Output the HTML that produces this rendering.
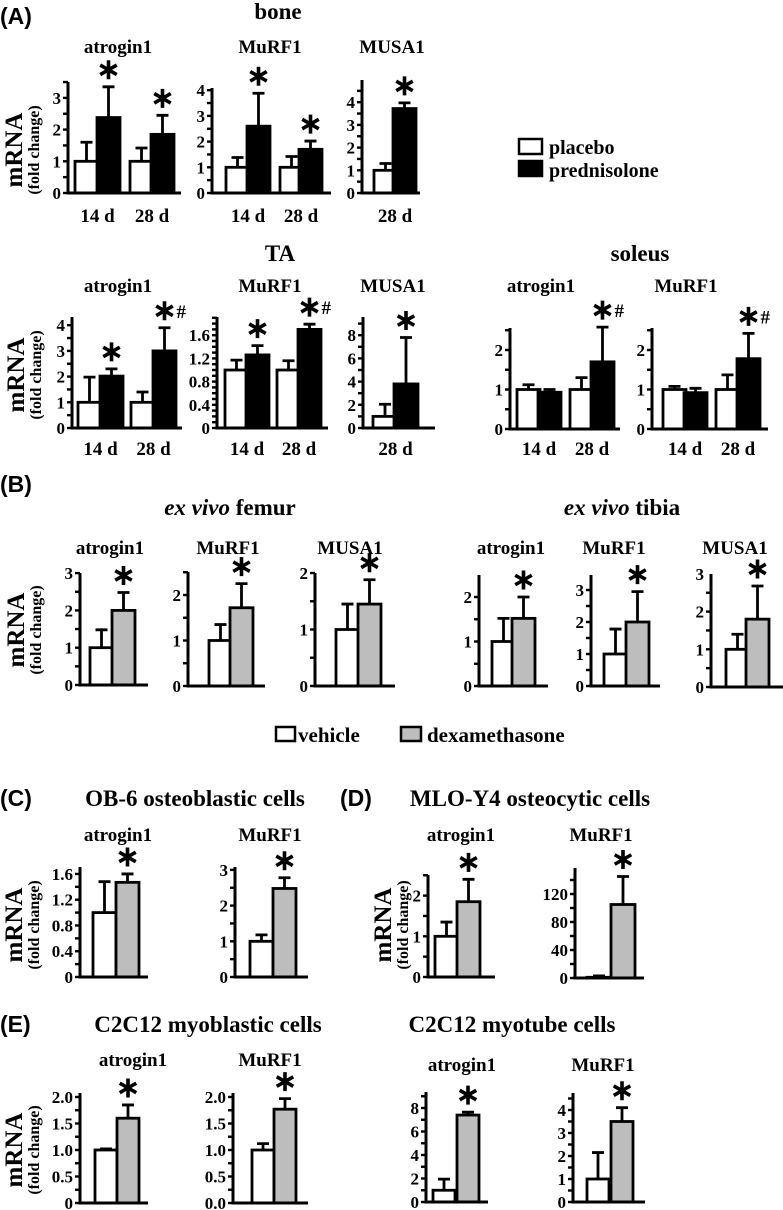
<!DOCTYPE html>
<html><head><meta charset="utf-8"><style>
html,body{margin:0;padding:0;background:#fff;}
svg{display:block;font-family:"Liberation Serif",serif;font-weight:bold;}
svg text{font-weight:bold;}
.sans{font-family:"Liberation Sans",sans-serif;}
</style></head><body>
<svg id="fig" width="783" height="1210" viewBox="0 0 783 1210" xmlns="http://www.w3.org/2000/svg">
<g id="static">
<text class="sans" x="0" y="24" font-size="23">(A)</text>
<text x="278" y="19" font-size="23" text-anchor="middle">bone</text>
<text x="280" y="261" font-size="23" text-anchor="middle">TA</text>
<text x="640" y="261" font-size="23" text-anchor="middle">soleus</text>
<text class="sans" x="0" y="492" font-size="23">(B)</text>
<text x="230" y="515" font-size="23" text-anchor="middle"><tspan font-style="italic">ex vivo</tspan> femur</text>
<text x="622" y="515" font-size="23" text-anchor="middle"><tspan font-style="italic">ex vivo</tspan> tibia</text>
<text class="sans" x="0" y="806" font-size="23">(C)</text>
<text x="195" y="806" font-size="23" text-anchor="middle">OB-6 osteoblastic cells</text>
<text class="sans" x="340" y="806" font-size="23">(D)</text>
<text x="530" y="806" font-size="23" text-anchor="middle">MLO-Y4 osteocytic cells</text>
<text class="sans" x="0" y="1032" font-size="23">(E)</text>
<text x="208" y="1032" font-size="23" text-anchor="middle">C2C12 myoblastic cells</text>
<text x="512" y="1032" font-size="23" text-anchor="middle">C2C12 myotube cells</text>
<rect x="519" y="139" width="23" height="15" fill="#fff" stroke="#000" stroke-width="2.5"/>
<text x="549" y="154" font-size="20">placebo</text>
<rect x="519" y="161" width="23" height="15" fill="#000" stroke="#000" stroke-width="2.5"/>
<text x="549" y="177" font-size="20">prednisolone</text>
<rect x="276" y="727" width="19" height="14" fill="#fff" stroke="#000" stroke-width="2.5"/>
<text x="298" y="742" font-size="21">vehicle</text>
<rect x="401" y="727" width="20" height="14" fill="#bdbdbd" stroke="#000" stroke-width="2.5"/>
<text x="427" y="742" font-size="21">dexamethasone</text>
</g>
</svg>
<script>
// ---- data (means and error-bar tops) ----
const boneAtroMean=[1,2.38,1,1.85]; const boneAtroErr=[1.6,3.35,1.42,2.45];
const boneMurfMean=[1,2.6,1,1.7]; const boneMurfErr=[1.38,3.88,1.42,2.02];
const boneMusaMean=[1,3.72]; const boneMusaErr=[1.3,3.97];
const taAtroMean=[1,2.02,1,3.0]; const taAtroErr=[1.98,2.3,1.4,3.9];
const taMurfMean=[1,1.26,1,1.7]; const taMurfErr=[1.17,1.42,1.16,1.79];
const taMusaMean=[1,3.8]; const taMusaErr=[2.05,7.8];
const solAtroMean=[1,0.93,1,1.7]; const solAtroErr=[1.12,1.0,1.3,2.58];
const solMurfMean=[1,0.92,1,1.78]; const solMurfErr=[1.08,1.03,1.37,2.42];
const femAtroMean=[1,2.0]; const femAtroErr=[1.48,2.48];
const femMurfMean=[1,1.72]; const femMurfErr=[1.35,2.25];
const femMusaMean=[1,1.45]; const femMusaErr=[1.45,1.88];
const tibAtroMean=[1,1.52]; const tibAtroErr=[1.52,2.0];
const tibMurfMean=[1,2.0]; const tibMurfErr=[1.78,2.95];
const tibMusaMean=[1,1.8]; const tibMusaErr=[1.4,2.68];
const obAtroMean=[1,1.47]; const obAtroErr=[1.48,1.6];
const obMurfMean=[1,2.48]; const obMurfErr=[1.18,2.78];
const mloAtroMean=[1,1.85]; const mloAtroErr=[1.35,2.4];
const mloMurfMean=[1,105]; const mloMurfErr=[3,145];
const mbAtroMean=[1,1.6]; const mbAtroErr=[1.02,1.85];
const mbMurfMean=[1,1.77]; const mbMurfErr=[1.12,1.97];
const mtAtroMean=[1,7.4]; const mtAtroErr=[1.95,7.65];
const mtMurfMean=[1,3.5]; const mtMurfErr=[2.15,4.1];
// tick label arrays
const ticks0to3=["0","1","2","3"]; const ticks0to4=["0","1","2","3","4"];
const ticks0to2=["0","1","2"]; const ticksTaMurf=["0","0.4","0.8","1.2","1.6"];
const ticksEven8=["0","2","4","6","8"]; const ticksMlo=["0","40","80","120"];
const ticksMbA=["0","0.5","1.0","1.5","2.0"]; const ticksMbM=["0.0","0.5","1.0","1.5","2.0"];
const dayLabels=["14 d","28 d"]; const day28=["28 d"];

const NS="http://www.w3.org/2000/svg";
const svg=document.getElementById('fig');
function mk(tag,attrs,parent){const e=document.createElementNS(NS,tag);for(const k in attrs)e.setAttribute(k,attrs[k]);(parent||svg).appendChild(e);return e;}

function chart(id,title,titleX,titleY,ax,by,ppu,topPx,endX,bx,bw,mean,err,fill,tickLabels,tickStep,minor,stars,hashes,xl,xlY){
  const g=mk('g',{});
  
  
  const y=v=>by-v*ppu;
  const t=mk('text',{x:titleX,y:titleY+1,'font-size':19,'text-anchor':'middle'},g);
  
  
  t.textContent=title;
  mean.forEach((m,i)=>{
    const x0=bx[i];
    const r=mk('rect',{x:x0,y:y(m),width:bw,height:by-y(m),fill:fill[i],stroke:'#000','stroke-width':2.8},g);
    
    
    const cx=x0+bw/2;
    const e=mk('path',{d:`M${cx},${y(m)}V${y(err[i])}M${cx-6},${y(err[i])}H${cx+6}`,stroke:'#000','stroke-width':2.8,fill:'none'},g);
    
    
    if(stars.includes(i)){
      const sy=y(err[i])-17, r2=9.5;
      const s=mk('path',{d:`M${cx},${sy-r2}V${sy+r2}M${cx-r2*0.87},${sy-r2/2}L${cx+r2*0.87},${sy+r2/2}M${cx-r2*0.87},${sy+r2/2}L${cx+r2*0.87},${sy-r2/2}`,stroke:'#000','stroke-width':3.6,fill:'none'},g);
      
      
      if(hashes.includes(i)){
        const h=mk('text',{x:cx+12,y:sy+7,'font-size':19},g);
        
        
        h.textContent='#';
      }
    }
  });
  const a=mk('path',{d:`M${ax},${topPx}V${by}H${endX}`,stroke:'#000','stroke-width':3,fill:'none'},g);
  
  
  const maxV=(by-topPx)/ppu;
  for(let v=0;v<=maxV+1e-6;v+=minor){
    const yy=y(v);
    const tk=mk('line',{x1:ax-5,x2:ax,y1:yy,y2:yy,stroke:'#000','stroke-width':2.4},g);
    
    
  }
  tickLabels.forEach((lab,i)=>{
    const tl=mk('text',{x:ax-7,y:y(i*tickStep)+6,'font-size':17,'text-anchor':'end'},g);
    
    
    tl.textContent=lab;
  });
  if(xl){
    xl.forEach((lab,i)=>{
      const cx=(bx[i*2]+bx[i*2+1]+bw)/2;
      const xt=mk('text',{x:cx,y:xlY+1,'font-size':19,'text-anchor':'middle'},g);
      
      
      xt.textContent=lab;
    });
  }
}
function ylab(id,x,cy){
  const g=mk('g',{});
  
  
  const a=mk('text',{x:0,y:0,'font-size':25,'text-anchor':'middle',transform:`translate(${x+2},${cy}) rotate(-90)`},g);
  a.textContent='mRNA';
  const b=mk('text',{x:0,y:0,'font-size':16,'text-anchor':'middle',transform:`translate(${x+19},${cy}) rotate(-90)`},g);
  b.textContent='(fold change)';
}
const W='#fff',K='#000',G='#bdbdbd';
const PB=[W,K,W,K], VD=[W,G];
chart('bone-atrogin1','atrogin1',118,52,68,193,31.7,82,181,[75,97,130,151],23,boneAtroMean,boneAtroErr,PB,ticks0to3,1,0.5,[1,3],[],dayLabels,221);
chart('bone-murf1','MuRF1',270,52,212,193,25.7,88,331,[226,247,280,299],23,boneMurfMean,boneMurfErr,PB,ticks0to4,1,0.5,[1,3],[],dayLabels,221);
chart('bone-musa1','MUSA1',392,52,362,193,22.7,80,420,[374,393],23,boneMusaMean,boneMusaErr,PB,ticks0to4,1,0.5,[1],[],day28,221);
ylab('bone-y-axis-title',20,150);
chart('ta-atrogin1','atrogin1',118,291,72,428,25.7,317,182,[78,100,131,153],23,taAtroMean,taAtroErr,PB,ticks0to4,1,0.5,[1,3],[3],dayLabels,454);
chart('ta-murf1','MuRF1',270,291,217,428,58,317,328,[225,246,277,298],23,taMurfMean,taMurfErr,PB,ticksTaMurf,0.4,0.1,[1,3],[3],dayLabels,454);
chart('ta-musa1','MUSA1',393,291,363,428,11.6,317,435,[373,394],24,taMusaMean,taMusaErr,PB,ticksEven8,2,1,[1],[],day28,454);
chart('soleus-atrogin1','atrogin1',541,291,510,429,39.5,328,620,[517,538,570,591],23,solAtroMean,solAtroErr,PB,ticks0to2,1,0.5,[3],[3],dayLabels,454);
chart('soleus-murf1','MuRF1',686,291,652,429,39.5,328,768,[663,684,716,737],23,solMurfMean,solMurfErr,PB,ticks0to2,1,0.5,[3],[3],dayLabels,454);
ylab('ta-y-axis-title',22,375);
chart('femur-atrogin1','atrogin1',110,553,80,685,37.3,573,148,[90,112],23,femAtroMean,femAtroErr,VD,ticks0to3,1,0.5,[1],[],null,0);
chart('femur-murf1','MuRF1',228,553,188,686,45.5,572,265,[209,230],23,femMurfMean,femMurfErr,VD,ticks0to2,1,0.5,[1],[],null,0);
chart('femur-musa1','MUSA1',350,553,315,686,56.5,573,395,[336,358],23,femMusaMean,femMusaErr,VD,ticks0to2,1,0.5,[1],[],null,0);
chart('tibia-atrogin1','atrogin1',511,553,479,686,44.5,575,548,[492,512],23,tibAtroMean,tibAtroErr,VD,ticks0to2,1,0.5,[1],[],null,0);
chart('tibia-murf1','MuRF1',614,553,591,686,32,575,660,[604,626],23,tibMurfMean,tibMurfErr,VD,ticks0to3,1,0.5,[1],[],null,0);
chart('tibia-musa1','MUSA1',735,553,711,687,37.7,574,783,[726,746],23,tibMusaMean,tibMusaErr,VD,ticks0to3,1,0.5,[1],[],null,0);
ylab('b-y-axis-title',22,630);
chart('ob6-atrogin1','atrogin1',118,840,80,977,64.4,867,148,[93,116],23,obAtroMean,obAtroErr,VD,ticksTaMurf,0.4,0.2,[1],[],null,0);
chart('ob6-murf1','MuRF1',270,840,235,977,35.7,867,308,[250,273],23,obMurfMean,obMurfErr,VD,ticks0to3,1,0.5,[1],[],null,0);
ylab('c-y-axis-title',20,925);
chart('mlo-atrogin1','atrogin1',461,840,428,977,40.7,875,495,[435,457],23,mloAtroMean,mloAtroErr,VD,ticks0to2,1,0.5,[1],[],null,0);
chart('mlo-murf1','MuRF1',601,840,575,978,0.7,868,644,[587,611],24,mloMurfMean,mloMurfErr,VD,ticksMlo,40,20,[1],[],null,0);
ylab('d-y-axis-title',389,925);
chart('myoblast-atrogin1','atrogin1',133,1065,80,1203,53,1093,148,[95,117],22,mbAtroMean,mbAtroErr,VD,ticksMbA,0.5,0.25,[1],[],null,0);
chart('myoblast-murf1','MuRF1',270,1065,233,1203,53,1093,308,[252,274],22,mbMurfMean,mbMurfErr,VD,ticksMbM,0.5,0.25,[1],[],null,0);
chart('myotube-atrogin1','atrogin1',462,1070,426,1202,11.75,1092,488,[433,457],22,mtAtroMean,mtAtroErr,VD,ticksEven8,2,1,[1],[],null,0);
chart('myotube-murf1','MuRF1',603,1070,573,1202,23,1093,645,[587,611],22,mtMurfMean,mtMurfErr,VD,ticks0to4,1,0.5,[1],[],null,0);
ylab('e-y-axis-title',20,1150);
</script>
</body></html>
